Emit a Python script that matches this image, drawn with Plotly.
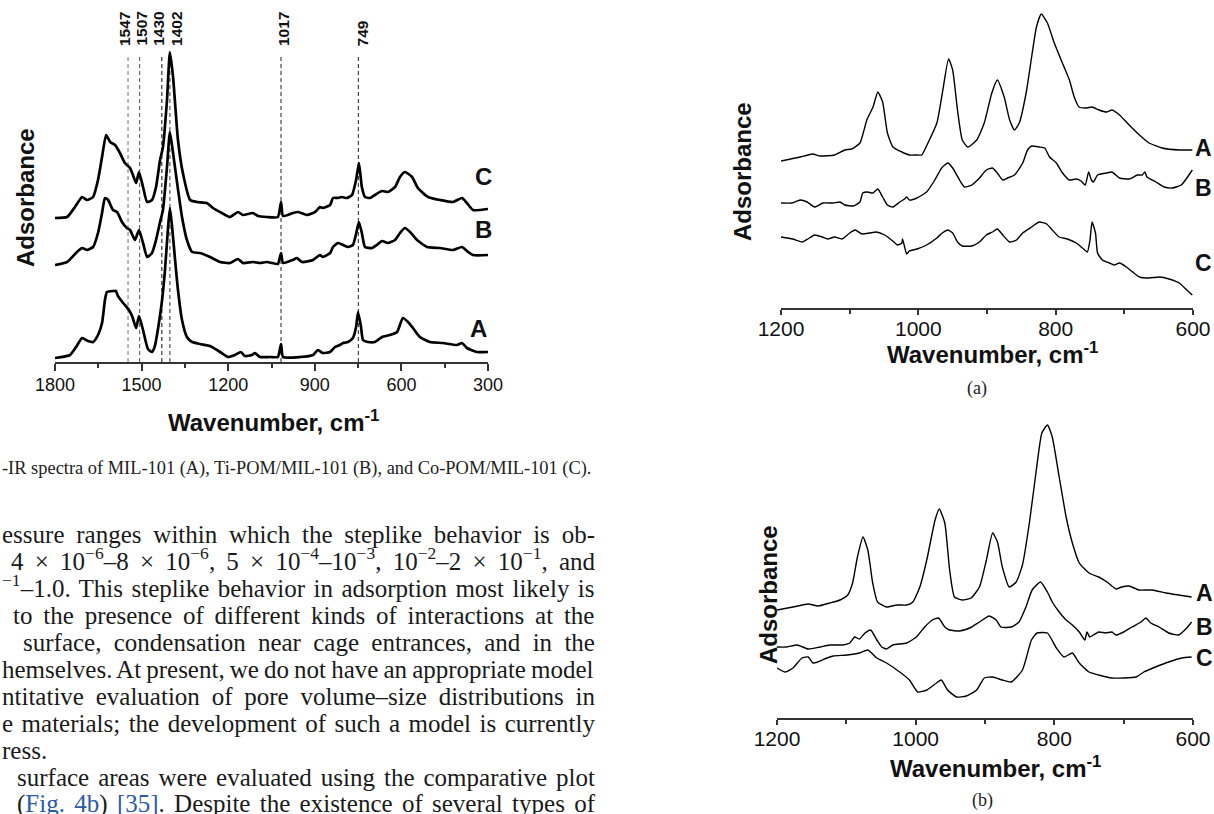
import re
import plotly.graph_objects as go

# ---------------- Fig. 3 (left): FT-IR spectra, wavenumber 1800-300 ----------------
f3_A_wn = [1800,1748,1727,1706,1686,1668,1651,1637,1627,1620,1596,1589,1582,1564,1544,1533,1519,1509,1495,1478,
           1464,1454,1440,1429,1419,1409,1402,1395,1384,1374,1360,1343,1325,1298,1263,1228,1201,1177,1156,1142,
           1118,1107,1090,1055,1028,1017,1010,951,906,889,872,847,830,813,802,785,768,757,750,740,
           733,716,692,667,640,615,595,577,560,536,501,456,408,390,373,338,300]
f3_A_abs = [.04,.07,.15,.24,.21,.20,.27,.39,.62,.70,.71,.71,.66,.59,.52,.46,.34,.46,.32,.13,
            .10,.16,.39,.62,.92,1.32,1.54,1.37,1.02,.72,.42,.25,.20,.18,.16,.10,.05,.07,.10,.06,
            .07,.09,.05,.05,.05,.18,.05,.05,.07,.12,.09,.10,.15,.17,.19,.20,.24,.35,.50,.35,
            .22,.20,.20,.25,.27,.30,.44,.40,.34,.25,.20,.19,.17,.19,.14,.10,.10]

f3_B_wn = [1800,1758,1724,1706,1689,1668,1651,1637,1627,1616,1599,1585,1568,1551,1540,1523,1509,1495,1481,1464,
           1450,1436,1426,1412,1402,1391,1377,1360,1343,1325,1298,1263,1228,1194,1166,1149,1114,1090,1066,1048,
           1028,1017,1010,976,962,944,906,882,872,847,837,820,802,785,768,754,747,737,726,702,
           685,667,647,622,605,588,570,546,511,466,421,390,373,352,300]
f3_B_abs = [.97,1.00,1.10,1.14,1.12,1.15,1.29,1.49,1.64,1.62,1.52,1.50,1.40,1.34,1.32,1.22,1.32,1.19,1.05,1.09,
            1.22,1.40,1.52,1.95,2.30,2.09,1.79,1.45,1.22,1.10,1.09,1.05,1.00,.99,1.03,.99,1.00,.99,1.00,.99,
            .98,1.09,.99,1.02,1.04,1.00,1.02,1.07,1.05,1.09,1.15,1.19,1.17,1.15,1.17,1.32,1.40,1.29,1.15,1.14,
            1.17,1.21,1.19,1.22,1.29,1.34,1.30,1.22,1.15,1.14,1.12,1.15,1.11,1.07,1.07]

f3_C_wn = [1800,1758,1731,1706,1689,1668,1651,1637,1623,1609,1592,1575,1558,1540,1530,1519,1509,1495,1481,1464,
           1450,1436,1426,1412,1402,1391,1374,1357,1332,1308,1274,1253,1222,1194,1166,1149,1114,1097,1066,1028,
           1017,1010,976,958,927,899,882,872,847,837,820,806,789,771,757,747,737,726,709,692,
           667,647,622,605,588,563,543,508,466,421,390,373,352,300]
f3_C_abs = [1.44,1.45,1.55,1.65,1.62,1.65,1.82,2.05,2.27,2.20,2.17,2.09,1.99,1.94,1.87,1.79,1.90,1.75,1.60,1.62,
            1.75,2.02,2.15,2.62,3.10,2.85,2.22,1.89,1.62,1.60,1.59,1.54,1.49,1.45,1.50,1.47,1.49,1.46,1.45,1.45,
            1.60,1.46,1.49,1.50,1.47,1.50,1.55,1.54,1.57,1.64,1.64,1.65,1.64,1.67,1.82,1.99,1.75,1.65,1.64,1.67,
            1.71,1.70,1.75,1.85,1.90,1.85,1.74,1.65,1.62,1.60,1.64,1.59,1.52,1.53]

f3_peaks = [1547, 1507, 1430, 1402, 1017, 749]
f3_peak_colors = ["#8a8a8a", "#6a6a6a", "#333333", "#555555", "#444444", "#444444"]
f3_peak_shift = [-3, 2, -3, 7, 3, 5]
f3_ticks = [1800, 1500, 1200, 900, 600, 300]
f3_minor = [1650, 1350, 1050, 750, 450]

# ---------------- Fig. (a) (top right): 1200-600 ----------------
fa_A_wn = [1200,1172,1154,1143,1122,1107,1097,1085,1075,1066,1059,1052,1045,1037,1024,1013,1002,995,986,973,
           965,956,950,943,936,928,915,904,893,885,875,867,860,853,843,835,828,821,812,802,
           792,780,773,766,755,747,737,726,718,707,693,678,664,645,620,601]
fa_A_abs = [1.47,1.51,1.54,1.52,1.53,1.58,1.59,1.65,1.88,2.01,2.16,2.06,1.75,1.61,1.56,1.53,1.53,1.53,1.65,1.85,
            2.15,2.49,2.38,1.98,1.68,1.61,1.68,1.85,2.15,2.28,2.11,1.88,1.78,1.85,2.15,2.51,2.81,2.94,2.85,2.65,
            2.48,2.28,2.11,2.01,2.00,2.01,1.98,1.96,1.98,1.93,1.83,1.73,1.65,1.60,1.58,1.58]

fa_B_wn = [1200,1184,1172,1162,1151,1139,1124,1114,1107,1095,1085,1081,1074,1066,1059,1052,1045,1037,1027,1020,
           1017,1013,1002,988,976,966,957,950,940,933,922,911,901,892,885,877,870,860,848,841,
           835,824,816,809,799,790,780,770,763,757,752,748,745,739,726,718,707,693,681,674,
           670,667,654,642,630,617,609,601]
fa_B_abs = [1.05,1.05,1.08,1.06,1.01,1.05,1.05,1.06,1.03,1.02,1.06,1.15,1.16,1.15,1.19,1.11,1.03,1.01,1.06,1.09,
            1.11,1.08,1.10,1.16,1.28,1.40,1.45,1.40,1.28,1.21,1.23,1.30,1.38,1.40,1.35,1.28,1.30,1.33,1.45,1.58,
            1.62,1.61,1.60,1.51,1.45,1.35,1.28,1.29,1.27,1.23,1.36,1.28,1.26,1.33,1.35,1.36,1.30,1.29,1.33,1.33,
            1.36,1.31,1.26,1.21,1.20,1.23,1.30,1.38]

fa_C_wn = [1200,1183,1169,1161,1151,1140,1132,1122,1111,1100,1092,1082,1071,1061,1049,1039,1030,1024,1023,1020,
           1017,1013,1002,988,973,965,957,950,943,936,922,911,901,892,885,877,867,857,848,835,
           824,813,805,795,783,770,761,754,750,747,742,739,732,722,715,707,697,686,678,664,
           649,635,620,609,601]
fa_C_abs = [.71,.69,.66,.69,.73,.71,.69,.71,.69,.75,.78,.74,.75,.76,.73,.68,.63,.65,.69,.61,
            .54,.57,.59,.63,.70,.75,.78,.75,.66,.62,.62,.66,.73,.76,.79,.73,.66,.68,.75,.81,
            .86,.84,.78,.71,.69,.65,.60,.56,.68,.86,.75,.55,.48,.45,.43,.45,.41,.35,.31,.30,
            .31,.29,.25,.18,.13]

# ---------------- Fig. (b) (bottom right): 1200-600 ----------------
fb_A_wn = [1200,1177,1155,1141,1124,1109,1098,1091,1084,1076,1069,1062,1055,1042,1027,1013,1004,994,984,972,
           966,958,951,944,933,920,908,898,889,882,875,865,855,846,836,826,818,810,803,793,
           783,774,764,750,736,724,711,703,692,678,659,639,621,602]
fb_A_abs = [1.08,1.11,1.14,1.12,1.15,1.18,1.23,1.35,1.61,1.81,1.68,1.35,1.16,1.11,1.13,1.13,1.16,1.31,1.58,1.98,
            2.09,1.95,1.48,1.21,1.18,1.20,1.31,1.58,1.85,1.76,1.51,1.31,1.36,1.53,1.95,2.48,2.85,2.93,2.81,2.41,
            2.01,1.75,1.55,1.45,1.41,1.36,1.29,1.31,1.32,1.28,1.28,1.25,1.23,1.21]

fb_B_wn = [1200,1186,1171,1155,1138,1124,1105,1095,1088,1081,1073,1065,1056,1049,1042,1033,1013,999,987,976,
           967,958,951,937,922,908,894,884,877,862,851,841,832,820,810,803,793,783,774,764,
           756,753,749,746,736,726,717,711,700,688,675,668,661,649,635,621,609,602]
fb_B_abs = [.71,.71,.73,.69,.71,.73,.73,.75,.81,.79,.85,.88,.78,.71,.69,.73,.75,.81,.91,.98,
            1.00,.91,.88,.87,.90,.96,1.02,.98,.91,.91,.96,1.11,1.28,1.36,1.26,1.16,1.06,.98,.93,.86,
            .78,.86,.81,.82,.86,.85,.86,.83,.86,.91,.96,1.00,.95,.91,.85,.83,.90,.96]

fb_C_wn = [1200,1188,1177,1164,1155,1148,1141,1128,1119,1099,1081,1069,1056,1042,1023,1009,997,984,970,963,
           954,941,927,912,901,889,875,862,846,833,825,810,797,786,774,764,750,736,717,700,
           682,671,654,635,616,602]
fb_C_abs = [.50,.46,.50,.60,.61,.55,.56,.60,.62,.63,.65,.68,.60,.55,.46,.38,.26,.28,.35,.38,
            .28,.21,.22,.28,.40,.41,.38,.36,.48,.78,.85,.85,.70,.61,.65,.55,.46,.43,.40,.40,
            .41,.46,.51,.56,.60,.61]

right_ticks = [1200, 1000, 800, 600]
right_minor = [1100, 900, 700]

caption = "-IR spectra of MIL-101 (A), Ti-POM/MIL-101 (B), and Co-POM/MIL-101 (C)."
body_lines = [
    "essure ranges within which the steplike behavior is ob-",
    "4 × 10<sup>−6</sup>–8 × 10<sup>−6</sup>, 5 × 10<sup>−4</sup>–10<sup>−3</sup>, 10<sup>−2</sup>–2 × 10<sup>−1</sup>, and",
    "<sup>−1</sup>–1.0. This steplike behavior in adsorption most likely is",
    "to the presence of different kinds of interactions at the",
    "surface, condensation near cage entrances, and in the",
    "hemselves. At present, we do not have an appropriate model",
    "ntitative evaluation of pore volume–size distributions in",
    "e materials; the development of such a model is currently",
    "ress.",
    "surface areas were evaluated using the comparative plot",
    "(<span style='color:#2b5aa8'>Fig. 4b</span>) <span style='color:#2b5aa8'>[35]</span>. Despite the existence of several types of",
]
body_indent = [0, 9, 0, 11, 21, 0, 0, 0, 0, 15, 15]
body_justify = [True, True, True, True, True, True, True, True, False, True, True]

W, H = 1214, 814
def px(xp): return xp / W
def py(yp): return 1 - yp / H

SANS = "Liberation Sans, Arial, sans-serif"
SERIF = "Liberation Serif, Times New Roman, serif"
BODY_SIZE = 25
TEXT_RIGHT = 593

# Times / Liberation Serif advance widths (1/1000 em), used to justify the text lines
_TW = {' ': 250, '(': 333, ')': 333, ',': 250, '-': 333, '.': 250, '/': 278, ':': 278, ';': 278,
       '[': 333, ']': 333, '×': 564, '–': 500, '−': 564,
       'A': 722, 'B': 667, 'C': 667, 'D': 722, 'E': 611, 'F': 556, 'G': 722, 'H': 722, 'I': 333, 'J': 389,
       'K': 722, 'L': 611, 'M': 889, 'N': 722, 'O': 722, 'P': 556, 'Q': 722, 'R': 667, 'S': 556, 'T': 611,
       'U': 722, 'V': 722, 'W': 944, 'X': 722, 'Y': 722, 'Z': 611,
       'a': 444, 'b': 500, 'c': 444, 'd': 500, 'e': 444, 'f': 333, 'g': 500, 'h': 500, 'i': 278, 'j': 278,
       'k': 500, 'l': 278, 'm': 778, 'n': 500, 'o': 500, 'p': 500, 'q': 500, 'r': 333, 's': 389, 't': 278,
       'u': 500, 'v': 500, 'w': 722, 'x': 500, 'y': 500, 'z': 444}

def measure(s, size):
    w, spaces, sup = 0.0, 0, False
    for tok in re.split(r'(<[^>]+>)', s):
        if tok.startswith('<'):
            if tok == '<sup>':
                sup = True
            elif tok == '</sup>':
                sup = False
            continue
        f = size * (0.7 if sup else 1.0)
        for ch in tok:
            w += _TW.get(ch, 500) / 1000 * f
            if ch == ' ':
                spaces += 1
    return w, spaces

fig = go.Figure()

# dashed peak markers (left)
for pk, col in zip(f3_peaks, f3_peak_colors):
    fig.add_trace(go.Scatter(x=[pk, pk], y=[0, 3.05], mode="lines",
                             line=dict(color=col, width=1.2, dash="4px,3px"),
                             xaxis="x", yaxis="y", hoverinfo="skip", showlegend=False))

for wn, ab in [(f3_A_wn, f3_A_abs), (f3_B_wn, f3_B_abs), (f3_C_wn, f3_C_abs)]:
    fig.add_trace(go.Scatter(x=wn, y=ab, mode="lines", line=dict(color="black", width=2.7, shape="spline", smoothing=0.5),
                             xaxis="x", yaxis="y", showlegend=False))
for wn, ab in [(fa_A_wn, fa_A_abs), (fa_B_wn, fa_B_abs), (fa_C_wn, fa_C_abs)]:
    fig.add_trace(go.Scatter(x=wn, y=ab, mode="lines", line=dict(color="black", width=1.4, shape="spline", smoothing=0.5),
                             xaxis="x2", yaxis="y2", showlegend=False))
for wn, ab in [(fb_A_wn, fb_A_abs), (fb_B_wn, fb_B_abs), (fb_C_wn, fb_C_abs)]:
    fig.add_trace(go.Scatter(x=wn, y=ab, mode="lines", line=dict(color="black", width=1.4, shape="spline", smoothing=0.5),
                             xaxis="x3", yaxis="y3", showlegend=False))

def xax(domain, rng, ticks, minor, fs, lw, tl, anchor, standoff):
    return dict(domain=domain, range=rng, showline=True, linecolor="#333", linewidth=lw,
                ticks="outside", tickvals=ticks, ticktext=[str(t) for t in ticks], ticklen=tl, tickwidth=lw,
                tickcolor="#333", tickfont=dict(family=SANS, size=fs, color="#111"), ticklabelstandoff=standoff,
                minor=dict(tickmode="array", tickvals=minor, ticks="outside", ticklen=4, tickwidth=lw, tickcolor="#333"),
                showgrid=False, zeroline=False, anchor=anchor, fixedrange=True, automargin=False)

def yax(domain, rng, anchor):
    return dict(domain=domain, range=rng, visible=False, anchor=anchor, fixedrange=True, automargin=False)

fig.update_layout(
    width=W, height=H, margin=dict(l=0, r=0, t=0, b=0, pad=0, autoexpand=False),
    paper_bgcolor="white", plot_bgcolor="rgba(0,0,0,0)", showlegend=False,
    xaxis=xax([px(55), px(488)], [1800, 300], f3_ticks, f3_minor, 18, 1.8, 7, "y", -2),
    yaxis=yax([py(362), py(40)], [0, 3.22], "x"),
    xaxis2=xax([px(781), px(1193)], [1200, 600], right_ticks, right_minor, 21, 1.5, 5, "y2", -4),
    yaxis2=yax([py(308), py(5)], [0, 3.03], "x2"),
    xaxis3=xax([px(777), px(1193)], [1200, 600], right_ticks, right_minor, 21, 1.5, 5, "y3", -4),
    yaxis3=yax([py(718), py(415)], [0, 3.03], "x3"),
)

ann = []
def A(**kw):
    kw.setdefault("showarrow", False)
    kw.setdefault("xanchor", "center")
    kw.setdefault("yanchor", "middle")
    ann.append(kw)

# peak labels
for pk, sh in zip(f3_peaks, f3_peak_shift):
    A(x=pk, y=3.14, xref="x", yref="y", text=f"<b>{pk}</b>", textangle=-90,
      yanchor="bottom", xshift=sh, font=dict(family=SANS, size=15.5, color="#111"))
# series labels
for lab, yv, sh in [("C", 1.85, -5), ("B", 1.32, -5), ("A", 0.34, -10)]:
    A(x=300, y=yv, xref="x", yref="y", text=f"<b>{lab}</b>", xshift=sh,
      font=dict(family=SANS, size=24, color="#111"))
for lab, yv in [("A", 1.60), ("B", 1.20), ("C", 0.45)]:
    A(x=600, y=yv, xref="x2", yref="y2", text=f"<b>{lab}</b>", xshift=10,
      font=dict(family=SANS, size=23, color="#111"))
for lab, yv in [("A", 1.25), ("B", 0.91), ("C", 0.60)]:
    A(x=600, y=yv, xref="x3", yref="y3", text=f"<b>{lab}</b>", xshift=11,
      font=dict(family=SANS, size=23, color="#111"))
# axis titles
for (xc, yc) in [(26, 198), (743, 172), (768, 594)]:
    A(x=px(xc), y=py(yc), xref="paper", yref="paper", text="<b>Adsorbance</b>", textangle=-90,
      font=dict(family=SANS, size=24, color="#111"))
A(x=px(273), y=py(421), xref="paper", yref="paper", text="<b>Wavenumber, cm<sup>-1</sup></b>",
  font=dict(family=SANS, size=24, color="#111"))
A(x=px(992), y=py(353), xref="paper", yref="paper", text="<b>Wavenumber, cm<sup>-1</sup></b>",
  font=dict(family=SANS, size=24, color="#111"))
A(x=px(995), y=py(767), xref="paper", yref="paper", text="<b>Wavenumber, cm<sup>-1</sup></b>",
  font=dict(family=SANS, size=24, color="#111"))
A(x=px(977), y=py(388), xref="paper", yref="paper", text="(a)", font=dict(family=SERIF, size=18, color="#222"))
A(x=px(982), y=py(800), xref="paper", yref="paper", text="(b)", font=dict(family=SERIF, size=18, color="#222"))
# caption & justified body text
A(x=0, y=py(471 + 10), xref="paper", yref="paper", text=caption, xanchor="left", yanchor="bottom",
  font=dict(family=SERIF, size=18.4, color="#222"))
for i, (line, ind, just) in enumerate(zip(body_lines, body_indent, body_justify)):
    txt = line
    if just:
        natural, nsp = measure(line, BODY_SIZE)
        ws = (TEXT_RIGHT - ind - natural) / max(nsp, 1)
        txt = f"<span style='word-spacing:{ws:.2f}px'>{line}</span>"
    A(x=px(ind), y=py(537 + 27 * i + 13), xref="paper", yref="paper", text=txt,
      xanchor="left", yanchor="bottom", font=dict(family=SERIF, size=BODY_SIZE, color="#1a1a1a"))

fig.update_layout(annotations=ann)
fig.write_html("out.html")
